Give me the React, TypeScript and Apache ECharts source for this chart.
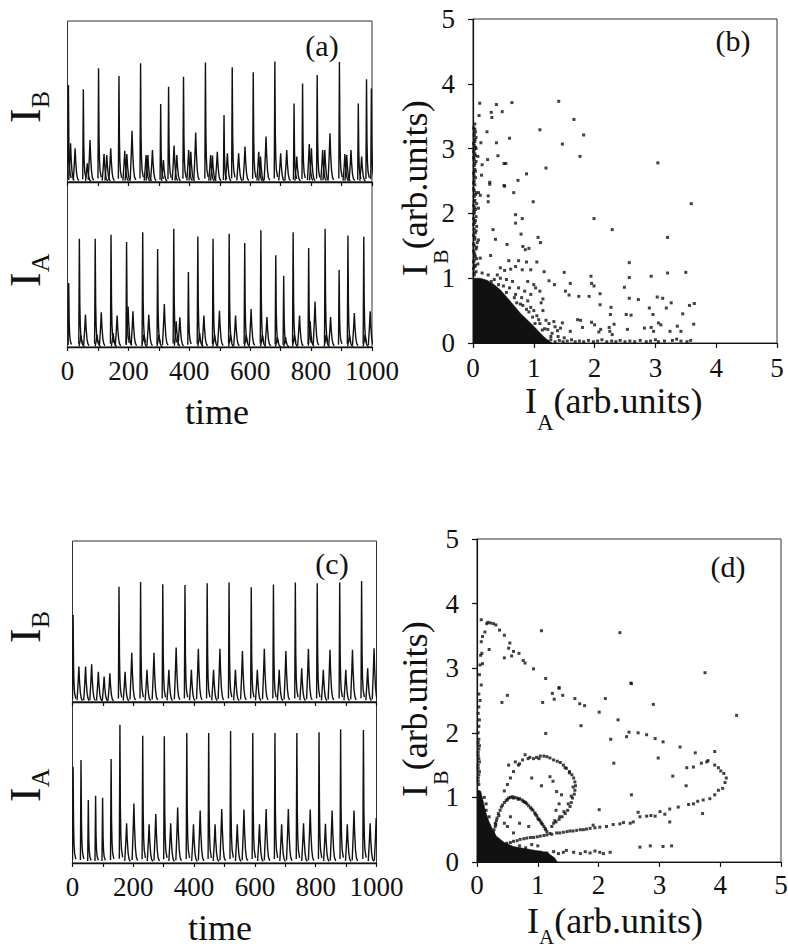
import React, { useEffect, useRef } from "react";
import * as echarts from "echarts";

const FONT = "Liberation Serif";
const INK = "#111";

// ---------- tick labels ----------
const timeTicks = [0, 200, 400, 600, 800, 1000];
const phaseTicks = [0, 1, 2, 3, 4, 5];

// ---------- time traces: [time, height, kind] (kind 1 = tall spike, 0 = small bump) ----------
const aIB: number[][] = [
  [3, 3.01, 1], [10, 1.2, 0], [25, 1.05, 0], [52, 2.88, 1], [65, 0.58, 0], [74, 1.3, 0],
  [102, 3.53, 1], [120, 0.87, 0], [129, 0.84, 0], [142, 1.05, 0], [169, 3.29, 1], [188, 0.97, 0],
  [195, 0.87, 0], [212, 1.59, 0], [240, 3.69, 1], [258, 0.84, 0], [264, 0.84, 0], [279, 0.99, 0],
  [306, 2.42, 1], [315, 0.68, 0], [332, 2.96, 1], [350, 1.13, 0], [359, 0.84, 0], [381, 3.27, 1],
  [398, 0.99, 0], [405, 0.94, 0], [421, 1.54, 0], [453, 3.71, 1], [470, 0.84, 0], [476, 0.82, 0],
  [492, 0.94, 0], [514, 2.08, 1], [525, 0.89, 0], [541, 3.56, 1], [562, 0.89, 0], [583, 1.1, 0],
  [610, 3.41, 1], [628, 0.94, 0], [634, 0.79, 0], [652, 1.41, 0], [681, 3.74, 1], [700, 0.89, 0],
  [720, 0.99, 0], [744, 2.44, 1], [753, 0.79, 0], [772, 3.06, 1], [794, 1.18, 0], [801, 1.05, 0],
  [820, 3.32, 1], [838, 0.99, 0], [845, 0.99, 0], [862, 1.51, 0], [893, 3.73, 1], [911, 0.87, 0],
  [917, 0.84, 0], [931, 0.99, 0], [955, 2.44, 1], [966, 0.79, 0], [982, 3.19, 1], [998, 2.9, 1],
];
const aIA: number[][] = [
  [4, 1.94, 1], [39, 3.28, 1], [44, 0.35, 0], [59, 0.98, 0], [91, 3.28, 1], [97, 0.37, 0],
  [111, 1.05, 0], [143, 3.4, 1], [150, 0.42, 0], [163, 0.95, 0], [194, 3.18, 1], [199, 1.23, 0],
  [215, 1.08, 0], [247, 3.48, 1], [250, 0.37, 0], [267, 0.98, 0], [296, 2.97, 1], [300, 0.37, 0],
  [318, 1.3, 0], [349, 3.58, 1], [357, 0.78, 0], [369, 0.9, 0], [397, 2.27, 1], [428, 3.35, 1],
  [434, 0.42, 0], [448, 0.95, 0], [478, 3.28, 1], [483, 0.37, 0], [499, 1.1, 0], [531, 3.43, 1],
  [535, 0.37, 0], [552, 0.95, 0], [582, 3.15, 1], [587, 0.37, 0], [603, 1.15, 0], [635, 3.54, 1],
  [640, 0.37, 0], [655, 0.91, 0], [684, 2.78, 1], [689, 0.3, 0], [710, 2.16, 1], [716, 0.3, 0],
  [741, 3.48, 1], [745, 0.37, 0], [762, 0.95, 0], [792, 3.0, 1], [797, 0.78, 0], [813, 1.38, 0],
  [846, 3.58, 1], [849, 0.37, 0], [864, 0.91, 0], [892, 2.33, 1], [921, 3.38, 1], [926, 0.37, 0],
  [942, 1.03, 0], [973, 3.34, 1], [977, 0.37, 0], [994, 1.08, 0],
];
const cIB: number[][] = [
  [2, 2.7, 1], [21, 1.1, 0], [43, 1.1, 0], [63, 1.17, 0], [85, 0.94, 0], [104, 0.79, 0], [123, 0.89, 0],
  [153, 3.58, 1], [173, 0.94, 0], [195, 1.53, 0], [224, 3.73, 1], [245, 1.0, 0], [268, 1.53, 0],
  [297, 3.66, 1], [317, 1.0, 0], [341, 1.69, 0], [370, 3.63, 1], [391, 1.0, 0], [414, 1.65, 0],
  [443, 3.69, 1], [464, 1.0, 0], [485, 1.65, 0], [515, 3.71, 1], [536, 1.0, 0], [559, 1.58, 0],
  [588, 3.56, 1], [608, 1.0, 0], [631, 1.65, 0], [661, 3.65, 1], [680, 1.0, 0], [702, 1.58, 0],
  [733, 3.71, 1], [754, 1.05, 0], [776, 1.65, 0], [805, 3.69, 1], [825, 1.0, 0], [847, 1.62, 0],
  [879, 3.71, 1], [899, 1.0, 0], [921, 1.62, 0], [951, 3.76, 1], [971, 1.05, 0], [992, 1.67, 0],
];
const cIA: number[][] = [
  [2, 2.99, 1], [28, 3.2, 1], [52, 1.96, 1], [76, 2.09, 1], [99, 2.03, 1], [127, 3.23, 1],
  [156, 4.29, 1], [178, 1.23, 0], [202, 1.85, 0], [231, 3.95, 1], [252, 1.2, 0], [274, 1.52, 0],
  [302, 3.94, 1], [323, 1.23, 0], [346, 1.72, 0], [376, 4.04, 1], [398, 1.2, 0], [420, 1.63, 0],
  [448, 4.04, 1], [469, 1.2, 0], [491, 1.68, 0], [520, 4.1, 1], [542, 1.2, 0], [564, 1.66, 0],
  [593, 4.04, 1], [615, 1.2, 0], [637, 1.68, 0], [666, 4.04, 1], [688, 1.2, 0], [710, 1.68, 0],
  [738, 4.04, 1], [760, 1.23, 0], [782, 1.66, 0], [811, 4.06, 1], [832, 1.22, 0], [854, 1.63, 0],
  [882, 4.15, 1], [904, 1.2, 0], [926, 1.63, 0], [957, 4.13, 1], [979, 1.23, 0], [999, 1.4, 0],
];

// ---------- phase portraits ----------
// upper edge of the saturated (solid black) cloud near the origin
const bCoreEdge: number[][] = [
  [0, 1.0], [0.12, 1.0], [0.23, 0.97], [0.35, 0.9], [0.45, 0.82], [0.6, 0.66], [0.78, 0.46],
  [0.9, 0.35], [1.0, 0.26], [1.12, 0.14], [1.22, 0.05], [1.3, 0],
];
const bColumn: number[][] = [
  [0.02, 1.05], [0.05, 1.1], [0.01, 1.15], [0.04, 1.2], [0.08, 1.22], [0.02, 1.28], [0.06, 1.3],
  [0.03, 1.36], [0.01, 1.42], [0.05, 1.45], [0.02, 1.5], [0.07, 1.55], [0.03, 1.6], [0.01, 1.66],
  [0.04, 1.7], [0.02, 1.76], [0.06, 1.8], [0.03, 1.86], [0.01, 1.92], [0.05, 1.95], [0.02, 2.0],
  [0.04, 2.06], [0.01, 2.12], [0.06, 2.15], [0.03, 2.2], [0.02, 2.26], [0.05, 2.32], [0.01, 2.38],
  [0.03, 2.44], [0.02, 2.5], [0.04, 2.55], [0.01, 2.62], [0.03, 2.68], [0.02, 2.74], [0.05, 2.8],
  [0.01, 2.86], [0.03, 2.92], [0.02, 2.98], [0.04, 3.02], [0.01, 3.08], [0.03, 3.14], [0.02, 3.2],
  [0.04, 3.26], [0.01, 3.32], [0.03, 3.38], [0.02, 1.08], [0.03, 1.18], [0.01, 1.25],
  [0.04, 1.33], [0.02, 1.39], [0.06, 1.48], [0.01, 1.53], [0.03, 1.63], [0.05, 1.73], [0.01, 1.83],
  [0.04, 1.89], [0.02, 2.03], [0.03, 2.09], [0.02, 2.18], [0.04, 2.29], [0.02, 2.35], [0.01, 2.47],
  [0.02, 2.58], [0.04, 2.65], [0.03, 2.77], [0.02, 2.83], [0.04, 2.89], [0.01, 2.95], [0.05, 3.0],
  [0.02, 3.05], [0.03, 3.11], [0.05, 3.17], [0.02, 3.23], [0.03, 3.3],
];
const bRow: number[][] = [
  [1.22, 0.03], [1.28, 0.05], [1.35, 0.02], [1.42, 0.04], [1.48, 0.02], [1.55, 0.03], [1.62, 0.05],
  [1.68, 0.02], [1.75, 0.03], [1.82, 0.02], [1.9, 0.04], [1.98, 0.02], [2.05, 0.03], [2.12, 0.05],
  [2.2, 0.02], [2.28, 0.03], [2.35, 0.02], [2.42, 0.04], [2.5, 0.02], [2.58, 0.03], [2.66, 0.02],
  [2.75, 0.04], [2.85, 0.02], [2.92, 0.03], [3.0, 0.05], [3.05, 0.02], [3.15, 0.03], [3.28, 0.04],
  [3.35, 0.06], [3.42, 0.03], [3.52, 0.02], [3.58, 0.04],
];
const bScatter: number[][] = [
  [0.11, 3.7], [0.385, 3.68], [0.64, 3.71], [1.41, 3.73], [0.1, 3.51], [0.3, 3.56], [0.31, 3.48],
  [0.48, 3.57], [1.66, 3.45], [0.23, 3.26], [1.1, 3.29], [1.82, 3.21], [0.13, 3.09], [0.385, 3.09],
  [0.6, 3.16], [1.47, 3.07], [1.76, 2.88], [3.04, 2.78], [0.08, 2.88], [0.24, 2.83], [0.41, 2.89],
  [0.51, 2.77], [0.54, 2.77], [0.15, 2.75], [1.2, 2.7], [0.88, 2.61], [0.74, 2.51], [0.14, 2.59],
  [0.275, 2.48], [0.51, 2.43], [0.67, 2.32], [0.09, 2.32], [0.25, 2.27], [0.275, 2.45], [0.52, 2.42],
  [0.12, 2.28], [0.25, 2.18], [0.99, 2.18], [0.09, 2.08], [0.7, 1.98], [0.81, 1.92], [0.7, 1.85],
  [1.99, 1.92], [2.29, 1.75], [3.59, 2.15], [3.2, 1.63], [0.33, 1.75], [0.09, 1.59], [0.37, 1.6],
  [0.56, 1.52], [0.79, 1.68], [0.82, 1.49], [0.86, 1.44], [0.92, 1.46], [1.07, 1.63], [1.11, 1.55],
  [0.12, 1.31], [0.29, 1.35], [0.59, 1.27], [0.75, 1.27], [0.88, 1.25], [1.05, 1.25], [0.45, 1.16],
  [0.52, 1.12], [0.62, 1.14], [0.7, 1.18], [0.81, 1.13], [0.95, 1.13], [1.17, 1.1], [1.5, 1.09],
  [2.57, 1.24], [3.2, 1.08], [3.5, 1.09], [2.93, 1.03], [1.94, 1.03], [1.95, 0.92], [1.6, 0.92],
  [2.57, 1.01], [1.99, 0.88], [1.25, 0.96], [1.34, 0.9], [1.52, 0.8], [1.58, 0.74], [1.74, 0.72],
  [1.91, 0.72], [2.09, 0.76], [2.49, 0.86], [2.57, 0.69], [2.72, 0.67], [3.03, 0.71], [3.12, 0.69],
  [3.26, 0.62], [3.64, 0.61], [3.56, 0.58], [2.09, 0.59], [2.27, 0.55], [2.9, 0.54], [3.18, 0.54],
  [2.26, 0.44], [2.52, 0.44], [2.6, 0.43], [2.96, 0.44], [3.09, 0.28], [3.05, 0.31], [3.45, 0.45],
  [3.63, 0.29], [3.36, 0.26], [3.42, 0.18], [2.93, 0.24], [2.82, 0.23], [2.97, 0.18], [3.24, 0.18],
  [2.54, 0.21], [2.32, 0.29], [2.24, 0.24], [2.1, 0.21], [2.0, 0.28], [1.95, 0.32], [1.77, 0.35],
  [1.8, 0.24], [1.72, 0.36], [1.33, 0.33], [1.47, 0.31], [1.23, 0.21], [1.39, 0.19], [1.44, 0.23],
  [1.6, 0.18], [2.07, 0.17], [2.25, 0.18], [2.29, 0.13],
  [1.0, 0.9], [1.03, 0.85], [1.1, 0.8], [1.15, 0.68], [1.12, 0.62], [0.95, 0.75], [0.9, 0.65],
  [0.85, 0.8], [0.75, 0.85], [0.65, 0.95], [0.55, 0.98], [0.45, 1.0], [0.35, 0.98], [0.25, 1.05],
  [0.15, 1.08], [0.6, 0.85], [0.8, 0.7], [1.0, 0.5], [1.05, 0.42], [1.2, 0.35], [1.25, 0.3],
  [1.1, 0.3], [0.95, 0.55], [1.3, 0.15], [1.4, 0.1], [1.5, 0.08], [1.35, 0.25], [0.7, 0.75],
  [0.9, 0.95], [0.4, 1.05], [0.3, 0.95], [1.15, 0.5], [0.68, 0.7], [0.82, 0.58], [0.92, 0.48],
  [1.08, 0.36], [1.18, 0.22], [0.55, 0.78], [0.42, 0.9], [0.72, 0.62], [0.88, 0.52], [1.02, 0.3],
  [1.14, 0.2], [1.28, 0.1], [0.5, 0.88], [0.78, 0.6], [0.98, 0.4],
];

const dCoreEdge: number[][] = [
  [0, 1.12], [0.06, 1.1], [0.1, 0.95], [0.14, 0.78], [0.2, 0.62], [0.26, 0.5], [0.32, 0.4],
  [0.45, 0.3], [0.6, 0.24], [0.9, 0.19], [1.15, 0.15], [1.28, 0.06], [1.32, 0],
];
const dColumn: number[][] = [
  [0.03, 1.2], [0.02, 1.3], [0.04, 1.4], [0.02, 1.5], [0.03, 1.6], [0.02, 1.7], [0.04, 1.8],
  [0.03, 1.9], [0.02, 2.0], [0.03, 2.1], [0.04, 2.2], [0.02, 2.3], [0.03, 2.4], [0.05, 2.5],
  [0.03, 2.6], [0.04, 2.9], [0.05, 3.05], [0.06, 3.2], [0.02, 1.25], [0.03, 1.35], [0.02, 1.45],
  [0.04, 1.55], [0.02, 1.65], [0.03, 1.75], [0.02, 1.85],
];
const dScatter: number[][] = [
  [0.07, 3.75], [0.16, 3.69], [0.18, 3.71], [0.22, 3.7], [0.27, 3.69], [0.31, 3.67], [0.37, 3.59],
  [0.45, 3.51], [0.54, 3.39], [0.52, 3.31], [0.6, 3.26], [0.69, 3.23], [0.45, 3.16], [0.57, 3.19],
  [0.76, 3.12], [0.79, 3.08], [0.93, 2.99], [1.13, 2.84], [1.35, 2.7], [1.06, 3.58], [2.35, 3.55],
  [3.75, 2.93], [2.53, 2.77], [0.09, 3.49], [0.13, 3.56], [0.07, 3.41], [0.2, 3.29], [0.08, 3.23],
  [0.09, 3.07], [0.07, 2.74],
  [0.41, 2.47], [0.5, 2.58], [1.08, 2.47], [1.24, 2.61], [1.35, 2.69], [1.41, 2.58], [1.27, 2.52],
  [1.61, 2.53], [1.69, 2.45], [1.77, 2.42], [2.54, 2.76], [2.11, 2.53], [2.01, 2.32], [2.32, 2.2],
  [2.9, 2.44], [4.27, 2.27], [1.71, 2.11], [1.13, 1.99], [2.5, 2.01], [2.46, 1.94], [2.65, 2.0],
  [2.79, 1.97], [2.93, 1.91], [3.06, 1.86], [2.2, 1.9], [3.34, 1.78], [3.59, 1.69], [3.91, 1.71],
  [2.98, 1.61], [2.25, 1.53], [3.45, 1.46], [3.56, 1.47], [3.69, 1.53], [3.78, 1.55], [3.8, 1.57],
  [3.91, 1.5], [3.97, 1.46], [4.01, 1.41], [4.06, 1.37], [4.1, 1.3], [4.08, 1.23], [4.04, 1.14],
  [3.97, 1.11], [3.91, 1.04], [3.83, 0.98], [3.72, 0.96], [3.63, 0.94], [3.56, 0.9], [3.48, 0.89],
  [3.44, 1.18], [3.22, 1.33], [3.71, 0.75], [3.31, 0.85], [3.17, 0.82], [3.09, 0.74], [3.01, 0.78],
  [2.93, 0.71], [2.86, 0.72], [2.79, 0.71], [2.68, 0.7], [2.57, 0.62], [2.52, 0.6], [2.41, 0.61],
  [2.35, 0.59], [2.24, 0.58], [2.13, 0.55], [2.02, 0.54], [1.94, 0.53], [1.86, 0.52], [1.75, 0.5],
  [1.64, 0.49], [1.53, 0.48], [1.42, 0.46], [1.31, 0.45], [1.23, 0.43], [1.15, 0.42], [1.04, 0.4],
  [0.93, 0.38], [0.82, 0.37], [0.71, 0.35], [0.6, 0.32], [0.49, 0.29], [0.38, 0.27], [0.27, 0.24],
  [0.16, 0.2], [3.17, 0.62], [2.54, 1.04], [1.91, 0.57], [2.65, 0.77], [2.01, 0.81],
  [0.54, 0.14], [0.65, 0.15], [0.76, 0.14], [0.84, 0.16], [0.93, 0.13], [1.04, 0.15], [1.15, 0.14],
  [1.26, 0.16], [1.34, 0.13], [1.42, 0.15], [1.47, 0.18], [1.59, 0.15], [1.7, 0.13], [1.78, 0.16],
  [1.86, 0.14], [1.94, 0.17], [2.02, 0.15], [2.08, 0.13], [2.19, 0.15], [2.68, 0.23], [2.85, 0.25],
  [3.06, 0.24], [3.2, 0.25],
  [0.52, 1.5], [0.63, 1.55], [0.79, 1.66], [0.93, 1.6], [1.04, 1.64], [1.15, 1.63], [1.26, 1.58],
  [1.37, 1.54], [1.47, 1.45], [1.56, 1.35], [1.61, 1.24], [1.61, 1.11], [1.57, 0.99], [1.53, 0.86],
  [1.45, 0.75], [1.35, 0.66], [1.26, 0.6], [1.23, 0.55], [0.45, 1.1], [0.5, 1.2], [0.55, 1.3],
  [0.6, 1.4], [0.68, 1.5], [0.75, 1.58], [0.87, 1.62], [0.98, 1.62], [1.1, 1.64], [1.2, 1.61],
  [1.32, 1.56], [1.42, 1.5], [1.52, 1.4], [1.59, 1.3], [1.62, 1.18], [1.6, 1.05], [1.55, 0.92],
  [1.49, 0.8], [1.4, 0.7], [1.3, 0.62], [1.58, 1.16], [1.55, 1.02], [1.5, 0.9], [1.43, 0.78],
  [1.36, 0.7], [1.28, 0.64], [1.45, 1.46], [1.52, 1.38], [1.02, 1.6], [0.84, 1.6], [0.7, 1.52],
  [1.2, 1.32], [1.31, 1.09], [1.39, 1.04], [1.06, 1.18], [1.25, 1.25], [1.35, 0.9], [1.3, 0.8], [0.9, 1.3],
  [0.3, 0.6], [0.35, 0.75], [0.4, 0.85], [0.45, 0.92], [0.5, 0.97], [0.55, 1.0], [0.62, 1.0],
  [0.7, 0.98], [0.78, 0.93], [0.85, 0.87], [0.92, 0.8], [0.98, 0.72], [1.03, 0.65], [1.08, 0.58],
  [1.12, 0.52], [1.15, 0.47], [0.33, 0.68], [0.38, 0.8], [0.48, 0.95], [0.58, 1.01], [0.66, 0.99],
  [0.74, 0.96], [0.82, 0.9], [0.88, 0.84], [0.95, 0.76], [1.0, 0.68], [1.05, 0.62], [1.1, 0.55],
  [0.32, 0.64], [0.36, 0.72], [0.42, 0.88], [0.52, 0.99], [0.6, 0.99], [0.68, 0.97], [0.76, 0.94],
  [0.8, 0.92], [0.9, 0.82], [0.96, 0.74], [1.01, 0.66], [1.06, 0.6], [1.13, 0.5], [0.31, 0.58],
  [0.45, 0.6], [0.5, 0.55], [0.6, 0.45], [0.7, 0.6], [0.55, 0.7], [0.85, 0.55],
  [0.22, 0.35], [0.25, 0.42], [0.28, 0.5], [0.2, 0.3], [0.24, 0.38], [0.27, 0.46], [0.3, 0.55],
  [0.3, 0.22], [0.43, 0.27], [0.55, 0.3], [0.66, 0.33], [0.77, 0.36], [0.88, 0.38], [0.99, 0.39],
  [1.1, 0.41], [1.2, 0.44], [1.36, 0.45], [1.48, 0.47], [1.58, 0.48], [1.7, 0.5], [1.8, 0.51],
  [0.35, 0.15], [0.45, 0.18], [0.4, 0.1], [0.5, 0.22], [0.6, 0.2], [0.7, 0.25], [0.8, 0.22],
  [0.9, 0.27], [1.0, 0.25], [0.15, 0.9], [0.12, 1.0], [0.2, 0.7], [0.15, 0.8],
];

// pulse outline, offsets in time units and fraction of the peak height
const SPIKE = [[-2, 0.03], [0, 1], [1.5, 0.4], [3, 0.2], [5, 0.1], [9, 0.04]];
const BUMP = [[-6, 0.05], [-2.5, 0.55], [0, 1], [2, 0.6], [5, 0.25], [8, 0.1], [12, 0.04]];

function traceSeries(data: number[][], idx: number) {
  return {
    type: "custom",
    xAxisIndex: idx,
    yAxisIndex: idx,
    data,
    clip: true,
    silent: true,
    renderItem: (_p: any, api: any) => {
      const t = api.value(0);
      const h = api.value(1);
      const shape = api.value(2) === 1 ? SPIKE : BUMP;
      const pts = shape.map(([dt, f]) => api.coord([t + dt, h * f]));
      return {
        type: "polyline",
        shape: { points: pts },
        style: { stroke: INK, lineWidth: 1.4, fill: null },
      };
    },
  };
}

function timeX(gridIndex: number, labels: boolean) {
  return {
    type: "value",
    gridIndex,
    min: 0,
    max: 1000,
    interval: 100,
    axisLine: { show: true, lineStyle: { color: INK, width: 1.4 } },
    axisTick: { show: true, length: 4, lineStyle: { color: INK, width: 1.2 } },
    axisLabel: {
      show: labels,
      margin: 10,
      fontFamily: FONT,
      fontSize: 27,
      color: INK,
      formatter: (v: number) => (timeTicks.includes(v) ? String(v) : ""),
    },
    splitLine: { show: false },
  };
}
function timeY(gridIndex: number) {
  return { type: "value", gridIndex, min: 0, max: 5, show: false };
}
function phaseAxis(gridIndex: number, isX: boolean, margin: number) {
  return {
    type: "value",
    gridIndex,
    min: 0,
    max: 5,
    interval: 1,
    axisLine: { show: true, lineStyle: { color: INK, width: 1.2 } },
    axisTick: { show: true, length: 5, lineStyle: { color: INK, width: 1.2 } },
    axisLabel: {
      margin,
      fontFamily: FONT,
      fontSize: 27,
      color: INK,
      formatter: (v: number) => (phaseTicks.includes(v) ? String(v) : ""),
    },
    splitLine: { show: false },
  };
}

function gridBox(left: number, top: number, width: number, height: number) {
  return {
    left, top, width, height,
    show: true,
    borderColor: "#333",
    borderWidth: 1,
    backgroundColor: "transparent",
    containLabel: false,
    outerBoundsMode: "none",
  };
}

function txt(x: number, y: number, text: string, size: number) {
  return {
    type: "text",
    x, y,
    style: {
      text,
      fontFamily: FONT,
      fontSize: size,
      fill: INK,
      align: "left",
      verticalAlign: "middle",
      textAlign: "left",
      textVerticalAlign: "middle",
    },
  };
}

// label "I" with subscript and optional trailing text
function subLabel(x: number, y: number, rotated: boolean, sub: string, rest: string,
  fs: number, subFs: number, subDy: number) {
  const iW = 0.333 * fs;
  const subW = (sub === "A" ? 0.722 : 0.667) * subFs;
  const children: any[] = [txt(0, 0, "I", fs), txt(iW, subDy, sub, subFs)];
  if (rest) children.push(txt(iW + subW, 0, rest, fs));
  return { type: "group", x, y, rotation: rotated ? Math.PI / 2 : 0, children };
}

function centered(x: number, y: number, text: string, size: number) {
  return {
    type: "text",
    x, y,
    style: {
      text, fontFamily: FONT, fontSize: size, fill: INK,
      align: "center", verticalAlign: "middle", textAlign: "center", textVerticalAlign: "middle",
    },
  };
}

function scatter(data: number[][], idx: number) {
  return {
    type: "scatter",
    xAxisIndex: idx,
    yAxisIndex: idx,
    data,
    symbol: "rect",
    symbolSize: 3,
    itemStyle: { color: INK },
    silent: true,
  };
}
function core(data: number[][], idx: number) {
  return {
    type: "line",
    xAxisIndex: idx,
    yAxisIndex: idx,
    data,
    showSymbol: false,
    symbol: "none",
    lineStyle: { width: 0.5, color: INK },
    areaStyle: { color: INK, opacity: 1 },
    silent: true,
  };
}

export default function App() {
  const ref = useRef<HTMLDivElement>(null);
  useEffect(() => {
    if (!ref.current) return;
    const chart = echarts.init(ref.current, undefined, { renderer: "svg" });
    chart.setOption({
      animation: false,
      backgroundColor: "#fff",
      textStyle: { fontFamily: FONT },
      grid: [
        gridBox(67.5, 21, 304.5, 161),
        gridBox(67.5, 182, 304.5, 165),
        gridBox(473, 19, 304, 324),
        gridBox(72.5, 541, 304, 161),
        gridBox(72.5, 702, 304, 161),
        gridBox(477, 539, 304, 323),
      ],
      xAxis: [
        timeX(0, false), timeX(1, true), phaseAxis(2, true, 11),
        timeX(3, false), timeX(4, true), phaseAxis(5, true, 9),
      ],
      yAxis: [
        timeY(0), timeY(1), phaseAxis(2, false, 18),
        timeY(3), timeY(4), phaseAxis(5, false, 18),
      ],
      series: [
        traceSeries(aIB, 0),
        traceSeries(aIA, 1),
        core(bCoreEdge, 2),
        scatter(bColumn, 2),
        scatter(bRow, 2),
        scatter(bScatter, 2),
        traceSeries(cIB, 3),
        traceSeries(cIA, 4),
        core(dCoreEdge, 5),
        scatter(dColumn, 5),
        scatter(dScatter, 5),
      ],
      graphic: [
        centered(322, 45, "(a)", 30),
        centered(733, 40, "(b)", 30),
        centered(332, 563, "(c)", 30),
        centered(728, 566, "(d)", 30),
        centered(217, 412, "time", 36),
        centered(220, 928, "time", 36),
        subLabel(25, 123, true, "B", "", 44, 26, 15),
        subLabel(25, 287, true, "A", "", 44, 26, 15),
        subLabel(25, 643, true, "B", "", 44, 26, 15),
        subLabel(25, 802, true, "A", "", 44, 26, 15),
        subLabel(415, 276, true, "B", "(arb.units)", 36, 22, 25),
        subLabel(525, 401, false, "A", "(arb.units)", 36, 23, 21),
        subLabel(527, 921, false, "A", "(arb.units)", 36, 21, 16),
        subLabel(415, 797, true, "B", "(arb.units)", 36, 22, 25),
      ],
    });
    return () => chart.dispose();
  }, []);
  return (
    <div
      ref={ref}
      style={{ position: "absolute", left: 0, top: 0, width: 788, height: 950, background: "#fff" }}
    />
  );
}
